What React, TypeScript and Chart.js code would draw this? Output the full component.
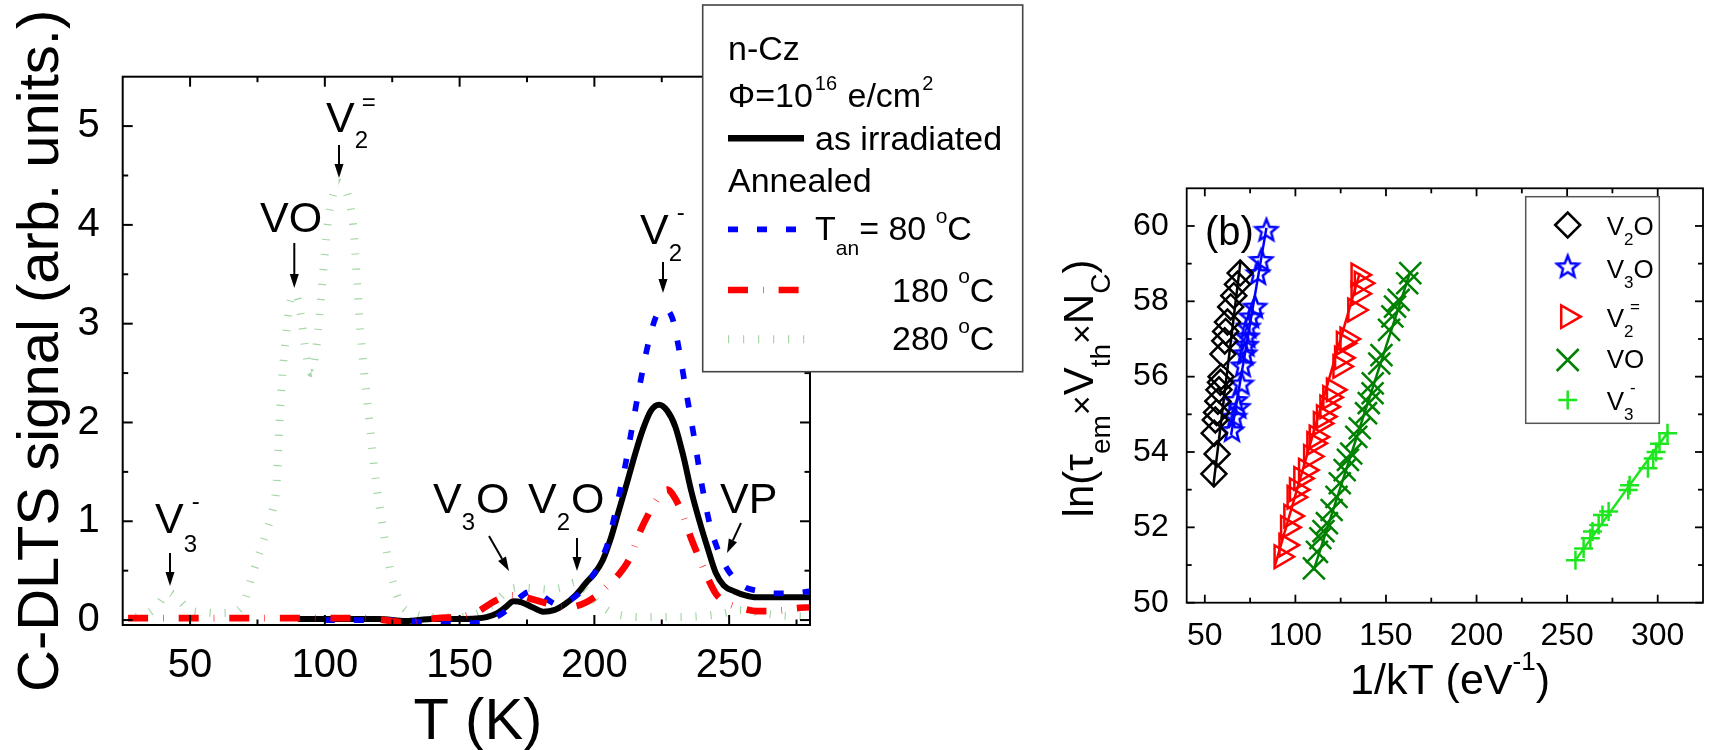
import React, { useEffect, useRef } from 'react';
import { Chart, registerables } from 'chart.js';

Chart.register(...registerables);

const FONT = 'Arial, "Liberation Sans", Helvetica, sans-serif';

// ---------------- Panel (a): C-DLTS spectra ----------------
const T_IRR = [90, 100, 110, 120, 130, 140, 150, 156, 160, 164, 167, 170, 173, 177, 181, 185, 189, 193, 197, 200, 203, 206, 209, 212, 215, 218, 221, 224, 227, 230, 233, 236, 239, 242, 245, 248, 252, 256, 260, 270, 280];
const S_IRR = [0.01, 0.01, 0.01, 0.01, -0.01, 0.01, 0.01, 0.015, 0.03, 0.07, 0.13, 0.19, 0.18, 0.13, 0.085, 0.1, 0.16, 0.25, 0.38, 0.47, 0.6, 0.82, 1.1, 1.38, 1.67, 1.93, 2.12, 2.18, 2.12, 1.96, 1.66, 1.3, 1.0, 0.73, 0.48, 0.35, 0.29, 0.25, 0.23, 0.23, 0.23];

const T_80 = [100, 115, 125, 135, 145, 155, 160, 163, 166, 169, 172, 175, 177, 180, 183, 186, 189, 192, 195, 198, 201, 203, 205, 208, 211, 214, 217, 220, 223, 226, 229, 231, 234, 237, 240, 243, 246, 249, 252, 256, 260, 266, 272, 280];
const S_80 = [0.0, 0.0, 0.0, -0.02, -0.03, -0.03, -0.02, 0.02, 0.07, 0.14, 0.22, 0.28, 0.29, 0.26, 0.2, 0.16, 0.18, 0.22, 0.29, 0.4, 0.52, 0.64, 0.78, 1.12, 1.5, 1.95, 2.4, 2.8, 3.08, 3.15, 3.05, 2.8, 2.32, 1.85, 1.35, 0.95, 0.7, 0.53, 0.42, 0.33, 0.3, 0.27, 0.27, 0.29];

const T_180 = [27, 60, 100, 115, 122, 128, 135, 142, 148, 153, 157, 161, 165, 169, 173, 177, 181, 185, 189, 193, 197, 201, 205, 209, 213, 217, 221, 224, 227, 230, 233, 236, 239, 242, 245, 248, 252, 256, 260, 265, 270, 275, 280];
const S_180 = [0.02, 0.02, 0.02, 0.02, 0.0, -0.02, 0.0, 0.02, 0.03, 0.05, 0.09, 0.16, 0.22, 0.25, 0.24, 0.21, 0.18, 0.15, 0.13, 0.14, 0.18, 0.25, 0.35, 0.46, 0.62, 0.9, 1.12, 1.25, 1.32, 1.23, 1.05, 0.82, 0.62, 0.43, 0.27, 0.19, 0.14, 0.11, 0.09, 0.09, 0.1, 0.12, 0.13];

const T_280 = [30, 35, 38, 42, 46, 50, 55, 60, 66, 70, 73, 76, 78.5, 80.5, 82, 83, 84, 85.5, 87, 89, 91, 93, 95, 97, 99, 101, 103, 105, 107, 108.5, 110.5, 112, 113.2, 115, 117, 118.8, 121.3, 123, 125.5, 128, 132, 140, 150, 158, 163, 168, 173, 178, 183, 188, 193, 197, 201, 206, 212, 220, 230, 240, 248, 254, 260, 268, 280];
const S_280 = [0.03, 0.08, 0.15, 0.28, 0.2, 0.1, 0.08, 0.07, 0.08, 0.18, 0.45, 0.7, 0.91, 1.1, 1.35, 1.9, 2.4, 2.85, 3.2, 3.3, 3.1, 2.7, 2.5, 2.8, 3.4, 4.0, 4.3, 4.43, 4.38, 4.29, 4.0, 3.41, 2.92, 2.4, 1.89, 1.42, 0.98, 0.68, 0.37, 0.17, 0.08, 0.03, 0.03, 0.08, 0.18, 0.3, 0.33, 0.32, 0.31, 0.33, 0.38, 0.3, 0.18, 0.08, 0.04, 0.03, 0.03, 0.04, 0.07, 0.1, 0.08, 0.05, 0.03];

const A_X_TICKS = [50, 100, 150, 200, 250];
const A_X_MINOR = [75, 125, 175, 225, 275];
const A_Y_TICKS = [0, 1, 2, 3, 4, 5];
const A_Y_MINOR = [0.5, 1.5, 2.5, 3.5, 4.5];

// ---------------- Panel (b): Arrhenius plots ----------------
const V2O_X = [55.0, 56.8, 55.2, 55.8, 56.5, 57.2, 57.8, 58.6, 59.0, 60.0, 61.0, 61.5, 62.5, 64.3, 66.0, 68.0, 69.5];
const V2O_Y = [53.42, 53.95, 54.5, 54.85, 55.05, 55.35, 55.65, 55.85, 56.0, 56.6, 56.95, 57.2, 57.45, 57.85, 58.15, 58.45, 58.75];
const V2O_FIT_X = [54.7, 69.8];
const V2O_FIT_Y = [53.1, 59.1];

const V3O_X = [65.0, 66.5, 68.5, 67.0, 70.3, 71.0, 72.2, 73.0, 73.5, 74.0, 75.5, 77.7, 79.4, 81.2, 84.0];
const V3O_Y = [54.58, 54.94, 55.2, 55.38, 55.82, 56.3, 56.62, 56.85, 57.07, 57.33, 57.6, 57.86, 58.75, 59.1, 59.9];
const V3O_FIT_X = [64.5, 84.0];
const V3O_FIT_Y = [54.45, 59.95];

const V2M_X = [92.1, 94.8, 95.7, 97.5, 99.3, 100.6, 103.0, 105.6, 108.4, 110.2, 111.5, 113.8, 115.5, 117.4, 119.0, 121.0, 124.6, 125.5, 126.5, 128.5, 132.8, 134.6, 136.4, 134.6];
const V2M_Y = [51.22, 51.53, 52.0, 52.3, 52.8, 53.0, 53.3, 53.52, 53.88, 54.23, 54.4, 54.76, 54.94, 55.2, 55.45, 55.65, 56.27, 56.5, 56.89, 57.0, 57.77, 58.2, 58.48, 58.7];
const V2M_FIT_X = [88.8, 135.5];
const V2M_FIT_Y = [51.0, 58.75];

const VO_X = [110.2, 111.9, 113.8, 115.5, 117.4, 120.0, 122.7, 124.5, 127.2, 129.0, 130.8, 133.6, 135.5, 139.0, 140.5, 142.6, 142.7, 146.3, 147.5, 151.7, 153.5, 155.0, 157.0, 161.7, 163.4];
const VO_Y = [50.91, 51.35, 51.71, 51.9, 52.11, 52.46, 52.81, 53.17, 53.52, 53.79, 53.96, 54.4, 54.63, 55.03, 55.3, 55.56, 55.82, 56.35, 56.57, 57.24, 57.6, 57.86, 58.04, 58.48, 58.75];
const VO_FIT_X = [110.0, 163.5];
const VO_FIT_Y = [50.85, 58.8];

const V3M_X = [254.6, 259.1, 262.8, 264.0, 267.4, 269.5, 272.9, 283.7, 284.5, 294.6, 297.5, 299.1, 301.0, 305.4];
const V3M_Y = [51.13, 51.44, 51.71, 51.89, 52.06, 52.33, 52.42, 52.99, 53.12, 53.57, 53.83, 54.0, 54.22, 54.5];
const V3M_FIT_X = [254.6, 306.0];
const V3M_FIT_Y = [51.13, 54.55];

const B_X_TICKS = [50, 100, 150, 200, 250, 300];
const B_X_MINOR = [75, 125, 175, 225, 275];
const B_Y_TICKS = [50, 52, 54, 56, 58, 60];
const B_Y_MINOR = [51, 53, 55, 57, 59];

// ---------------- layout ----------------
const LEFT_W = 1040;
const RIGHT_W = 681;
const RIGHT_OFF = 1040;
const H = 750;
const A_AREA = { left: 122.7, top: 76.7, right: 810, bottom: 625 };
const B_AREA = { left: 1186.7 - RIGHT_OFF, top: 188.3, right: 1713.3 - RIGHT_OFF, bottom: 602.7 };

const BLUE = '#0000ff';
const RED = '#ff0000';
const DKGREEN = '#008000';
const LTGREEN = '#1ee61e';
const FAINT_GREEN = 'rgba(0,140,0,0.35)';

type Seg = { t: string; s: number; dy?: number; stack?: boolean; dx?: number };

function layoutRich(ctx: CanvasRenderingContext2D, segs: Seg[]) {
  let cur = 0;
  let prevStart = 0;
  const items: any[] = [];
  for (const g of segs) {
    ctx.font = `${g.s}px ${FONT}`;
    const w = ctx.measureText(g.t).width;
    const sx = (g.stack ? prevStart : cur) + (g.dx || 0);
    items.push({ ...g, sx, w });
    cur = Math.max(cur, sx + w);
    prevStart = sx;
  }
  return { items, width: cur };
}

function drawRich(ctx: CanvasRenderingContext2D, segs: Seg[], x: number, y: number, align: 'left' | 'center' = 'left') {
  const { items, width } = layoutRich(ctx, segs);
  const x0 = align === 'center' ? x - width / 2 : x;
  ctx.textAlign = 'left';
  ctx.textBaseline = 'alphabetic';
  ctx.fillStyle = '#000';
  for (const it of items) {
    ctx.font = `${it.s}px ${FONT}`;
    ctx.fillText(it.t, x0 + it.sx, y + (it.dy || 0));
  }
}

function drawArrow(ctx: CanvasRenderingContext2D, x1: number, y1: number, x2: number, y2: number) {
  const dx = x2 - x1;
  const dy = y2 - y1;
  const len = Math.hypot(dx, dy);
  const ux = dx / len;
  const uy = dy / len;
  const head = 14;
  const hw = 4.5;
  ctx.strokeStyle = '#000';
  ctx.fillStyle = '#000';
  ctx.lineWidth = 2;
  ctx.setLineDash([]);
  ctx.beginPath();
  ctx.moveTo(x1, y1);
  ctx.lineTo(x2 - ux * head, y2 - uy * head);
  ctx.stroke();
  ctx.beginPath();
  ctx.moveTo(x2, y2);
  ctx.lineTo(x2 - ux * head - uy * hw, y2 - uy * head + ux * hw);
  ctx.lineTo(x2 - ux * head + uy * hw, y2 - uy * head - ux * hw);
  ctx.closePath();
  ctx.fill();
}

function frameTicks(
  ctx: CanvasRenderingContext2D,
  a: any,
  xs: any,
  ys: any,
  spec: { lw: number; major: number; minor: number; xT: number[]; xM: number[]; yT: number[]; yM: number[] }
) {
  ctx.save();
  ctx.setLineDash([]);
  ctx.strokeStyle = '#000';
  ctx.lineWidth = spec.lw;
  ctx.strokeRect(a.left, a.top, a.right - a.left, a.bottom - a.top);
  const seg = (x1: number, y1: number, x2: number, y2: number) => {
    ctx.beginPath();
    ctx.moveTo(x1, y1);
    ctx.lineTo(x2, y2);
    ctx.stroke();
  };
  const xt = (vals: number[], L: number) =>
    vals.forEach((v) => {
      const p = xs.getPixelForValue(v);
      seg(p, a.bottom, p, a.bottom - L);
      seg(p, a.top, p, a.top + L);
    });
  const yt = (vals: number[], L: number) =>
    vals.forEach((v) => {
      const p = ys.getPixelForValue(v);
      seg(a.left, p, a.left + L, p);
      seg(a.right, p, a.right - L, p);
    });
  xt(spec.xT, spec.major);
  xt(spec.xM, spec.minor);
  yt(spec.yT, spec.major);
  yt(spec.yM, spec.minor);
  ctx.restore();
}

function pts(xs: number[], ys: number[]) {
  return xs.map((x, i) => ({ x, y: ys[i] }));
}

function starPath(g: CanvasRenderingContext2D, cx: number, cy: number, R: number, r: number) {
  g.beginPath();
  for (let i = 0; i < 10; i++) {
    const ang = -Math.PI / 2 + (i * Math.PI) / 5;
    const rr = i % 2 === 0 ? R : r;
    const px = cx + rr * Math.cos(ang);
    const py = cy + rr * Math.sin(ang);
    if (i === 0) g.moveTo(px, py);
    else g.lineTo(px, py);
  }
  g.closePath();
}

function makeStar(color: string) {
  const c = document.createElement('canvas');
  c.width = 28;
  c.height = 28;
  const g = c.getContext('2d')!;
  starPath(g, 14, 15, 11.5, 5);
  g.strokeStyle = color;
  g.lineWidth = 2.5;
  g.lineJoin = 'miter';
  g.stroke();
  return c;
}

const leftDecor = {
  id: 'leftDecor',
  afterDraw(chart: any) {
    const ctx: CanvasRenderingContext2D = chart.ctx;
    const a = chart.chartArea;
    frameTicks(ctx, a, chart.scales.x, chart.scales.y, {
      lw: 2,
      major: 10,
      minor: 5.5,
      xT: A_X_TICKS,
      xM: A_X_MINOR,
      yT: A_Y_TICKS,
      yM: A_Y_MINOR,
    });
    ctx.save();
    // axis titles
    drawRich(ctx, [{ t: 'T (K)', s: 58 }], 478, 739, 'center');
    ctx.save();
    ctx.translate(57.5, (a.top + a.bottom) / 2);
    ctx.rotate(-Math.PI / 2);
    drawRich(ctx, [{ t: 'C-DLTS signal (arb. units.)', s: 58 }], 0, 0, 'center');
    ctx.restore();

    // peak annotations
    drawRich(ctx, [{ t: 'V', s: 43 }, { t: '3', s: 24, dy: 19 }, { t: '-', s: 24, dy: -24, stack: true, dx: 8 }], 155, 533);
    drawRich(ctx, [{ t: 'VO', s: 43 }], 260, 232);
    drawRich(ctx, [{ t: 'V', s: 43 }, { t: '2', s: 24, dy: 16 }, { t: '=', s: 24, dy: -22, stack: true, dx: 7 }], 326, 132);
    drawRich(ctx, [{ t: 'V', s: 43 }, { t: '3', s: 24, dy: 17 }, { t: 'O', s: 43, dx: 1 }], 433, 513);
    drawRich(ctx, [{ t: 'V', s: 43 }, { t: '2', s: 24, dy: 17 }, { t: 'O', s: 43, dx: 1 }], 528, 513);
    drawRich(ctx, [{ t: 'VP', s: 43 }], 720, 513);
    drawRich(ctx, [{ t: 'V', s: 43 }, { t: '2', s: 24, dy: 17 }, { t: '-', s: 24, dy: -24, stack: true, dx: 8 }], 640, 244);

    drawArrow(ctx, 170, 553, 170, 586);
    drawArrow(ctx, 294.3, 243, 294.3, 288);
    drawArrow(ctx, 339, 145, 339, 178);
    drawArrow(ctx, 489, 536, 509, 571);
    drawArrow(ctx, 577, 538, 577, 571);
    drawArrow(ctx, 741, 523, 727, 553);
    drawArrow(ctx, 663, 262, 663, 293);

    // legend box
    const bx = 702.7, by = 5, bw = 320, bh = 366.7;
    ctx.fillStyle = '#fff';
    ctx.fillRect(bx, by, bw, bh);
    ctx.strokeStyle = '#444';
    ctx.lineWidth = 1.6;
    ctx.setLineDash([]);
    ctx.strokeRect(bx, by, bw, bh);

    const LS = 34;
    drawRich(ctx, [{ t: 'n-Cz', s: LS }], 728, 59.5);
    drawRich(ctx, [{ t: 'Φ=10', s: LS }, { t: '16', s: 20, dy: -17, dx: 2 }, { t: ' e/cm', s: LS, dx: 1 }, { t: '2', s: 20, dy: -17, dx: 1 }], 728, 107);

    const sample = (y: number, color: string, w: number, dash: number[], x2: number) => {
      ctx.save();
      ctx.strokeStyle = color;
      ctx.lineWidth = w;
      ctx.lineCap = 'butt';
      ctx.setLineDash(dash);
      ctx.beginPath();
      ctx.moveTo(728, y);
      ctx.lineTo(x2, y);
      ctx.stroke();
      ctx.restore();
    };
    sample(138.3, '#000', 6.5, [], 804);
    drawRich(ctx, [{ t: 'as irradiated', s: LS }], 815, 150);
    drawRich(ctx, [{ t: 'Annealed', s: LS }], 728, 192);
    sample(229.3, BLUE, 5.7, [10, 19], 804);
    drawRich(ctx, [{ t: 'T', s: LS }, { t: 'an', s: 21, dy: 15 }, { t: '= 80 ', s: LS }, { t: 'o', s: 21, dy: -17 }, { t: 'C', s: LS }], 815, 240);
    sample(290, RED, 6.7, [20, 15, 0.6, 15], 800);
    drawRich(ctx, [{ t: '180 ', s: LS }, { t: 'o', s: 21, dy: -19 }, { t: 'C', s: LS }], 892, 302);
    sample(339.3, FAINT_GREEN, 8, [1.2, 13.8], 806);
    drawRich(ctx, [{ t: '280 ', s: LS }, { t: 'o', s: 21, dy: -17 }, { t: 'C', s: LS }], 892, 350);
    ctx.restore();
  },
};

function makeLeft(canvas: HTMLCanvasElement) {
  const line = (xs: number[], ys: number[], color: string, w: number, dash: number[], order: number) => ({
    data: pts(xs, ys),
    showLine: true,
    borderColor: color,
    borderWidth: w,
    borderDash: dash,
    borderCapStyle: 'butt',
    pointRadius: 0,
    cubicInterpolationMode: 'monotone',
    order,
  });
  return new Chart(canvas, {
    type: 'scatter',
    data: {
      datasets: [
        { label: 'as irradiated', ...line(T_IRR, S_IRR, '#000', 6, [], 4) },
        { label: 'Tan = 80 °C', ...line(T_80, S_80, BLUE, 5.7, [10, 19], 3) },
        { label: '180 °C', ...line(T_180, S_180, RED, 6.7, [20, 15, 0.6, 15], 2) },
        { label: '280 °C', ...line(T_280, S_280, FAINT_GREEN, 8, [1.2, 13.8], 5) },
      ] as any,
    },
    options: {
      responsive: false,
      animation: false,
      devicePixelRatio: 1,
      layout: { padding: { left: 0, top: A_AREA.top, right: LEFT_W - A_AREA.right, bottom: 0 } },
      plugins: { legend: { display: false }, tooltip: { enabled: false } },
      scales: {
        x: {
          type: 'linear',
          position: 'bottom',
          min: 25,
          max: 280,
          grid: { display: false },
          border: { display: false },
          ticks: { color: '#000', font: { family: FONT, size: 40 }, padding: 9, maxRotation: 0, autoSkip: false },
          afterBuildTicks: (s: any) => {
            s.ticks = A_X_TICKS.map((v) => ({ value: v }));
          },
          afterFit: (s: any) => {
            s.height = H - A_AREA.bottom;
          },
        },
        y: {
          type: 'linear',
          min: -0.05,
          max: 5.5,
          grid: { display: false },
          border: { display: false },
          ticks: { color: '#000', font: { family: FONT, size: 40 }, padding: 15, autoSkip: false },
          afterBuildTicks: (s: any) => {
            s.ticks = A_Y_TICKS.map((v) => ({ value: v }));
          },
          afterFit: (s: any) => {
            s.width = A_AREA.left;
          },
        },
      },
    } as any,
    plugins: [leftDecor],
  });
}

function makeRight(canvas: HTMLCanvasElement) {
  const star = makeStar(BLUE);
  const mk = (label: string, xs: number[], ys: number[], color: string, style: any, radius: number, rot = 0) => ({
    label,
    data: pts(xs, ys),
    showLine: false,
    pointStyle: style,
    pointRadius: radius,
    pointBorderWidth: 2.5,
    pointBorderColor: color,
    pointBackgroundColor: 'rgba(0,0,0,0)',
    borderColor: color,
    pointRotation: rot,
    order: 1,
  });
  const fit = (xs: number[], ys: number[], color: string) => ({
    label: 'fit',
    data: pts(xs, ys),
    showLine: true,
    borderColor: color,
    borderWidth: 2.5,
    pointRadius: 0,
    order: 2,
  });

  const rightDecor = {
    id: 'rightDecor',
    afterDraw(chart: any) {
      const ctx: CanvasRenderingContext2D = chart.ctx;
      const a = chart.chartArea;
      frameTicks(ctx, a, chart.scales.x, chart.scales.y, {
        lw: 1.8,
        major: 8,
        minor: 5,
        xT: B_X_TICKS,
        xM: B_X_MINOR,
        yT: B_Y_TICKS,
        yM: B_Y_MINOR,
      });
      ctx.save();
      drawRich(ctx, [{ t: '(b)', s: 40 }], 1205 - RIGHT_OFF, 245);
      drawRich(ctx, [{ t: '1/kT (eV', s: 43 }, { t: '-1', s: 26, dy: -24 }, { t: ')', s: 43 }], 1450 - RIGHT_OFF, 694, 'center');
      ctx.save();
      ctx.translate(1093 - RIGHT_OFF, 388.5);
      ctx.rotate(-Math.PI / 2);
      drawRich(
        ctx,
        [
          { t: 'ln(', s: 42 },
          { t: 'τ', s: 42 },
          { t: 'em', s: 28, dy: 17 },
          { t: '×', s: 34 },
          { t: 'V', s: 42 },
          { t: 'th', s: 28, dy: 17 },
          { t: '×', s: 34 },
          { t: 'N', s: 42 },
          { t: 'C', s: 28, dy: 17 },
          { t: ')', s: 42 },
        ],
        0,
        0,
        'center'
      );
      ctx.restore();

      // legend
      const bx = 1525.7 - RIGHT_OFF, by = 196.7, bw = 133.6, bh = 226.6;
      ctx.fillStyle = '#fff';
      ctx.fillRect(bx, by, bw, bh);
      ctx.strokeStyle = '#555';
      ctx.lineWidth = 1.5;
      ctx.strokeRect(bx, by, bw, bh);
      const mx = 1567.7 - RIGHT_OFF;
      const tx = 1606.7 - RIGHT_OFF;
      ctx.lineWidth = 2.5;
      // diamond
      ctx.strokeStyle = '#000';
      ctx.beginPath();
      ctx.moveTo(mx - 12.5, 225);
      ctx.lineTo(mx, 212.5);
      ctx.lineTo(mx + 12.5, 225);
      ctx.lineTo(mx, 237.5);
      ctx.closePath();
      ctx.stroke();
      // star
      ctx.drawImage(star, mx - 14, 267.3 - 15);
      // triangle (right)
      ctx.strokeStyle = RED;
      const r = 13;
      const ty = 316.7;
      ctx.beginPath();
      ctx.moveTo(mx + r, ty);
      ctx.lineTo(mx - r / 2, ty - (r * Math.sqrt(3)) / 2);
      ctx.lineTo(mx - r / 2, ty + (r * Math.sqrt(3)) / 2);
      ctx.closePath();
      ctx.stroke();
      // X
      ctx.strokeStyle = DKGREEN;
      const q = 11;
      ctx.beginPath();
      ctx.moveTo(mx - q, 360 - q);
      ctx.lineTo(mx + q, 360 + q);
      ctx.moveTo(mx + q, 360 - q);
      ctx.lineTo(mx - q, 360 + q);
      ctx.stroke();
      // plus
      ctx.strokeStyle = LTGREEN;
      ctx.beginPath();
      ctx.moveTo(mx - 9.5, 400);
      ctx.lineTo(mx + 9.5, 400);
      ctx.moveTo(mx, 390.5);
      ctx.lineTo(mx, 409.5);
      ctx.stroke();

      const LS = 26;
      drawRich(ctx, [{ t: 'V', s: LS }, { t: '2', s: 17, dy: 10 }, { t: 'O', s: LS }], tx, 235);
      drawRich(ctx, [{ t: 'V', s: LS }, { t: '3', s: 17, dy: 10 }, { t: 'O', s: LS }], tx, 278);
      drawRich(ctx, [{ t: 'V', s: LS }, { t: '2', s: 17, dy: 10 }, { t: '=', s: 17, dy: -15, stack: true, dx: 6 }], tx, 327);
      drawRich(ctx, [{ t: 'VO', s: LS }], tx, 368);
      drawRich(ctx, [{ t: 'V', s: LS }, { t: '3', s: 17, dy: 10 }, { t: '-', s: 17, dy: -17, stack: true, dx: 6 }], tx, 410);
      ctx.restore();
    },
  };

  return new Chart(canvas, {
    type: 'scatter',
    data: {
      datasets: [
        fit(V2O_FIT_X, V2O_FIT_Y, '#000'),
        fit(V3O_FIT_X, V3O_FIT_Y, BLUE),
        fit(V2M_FIT_X, V2M_FIT_Y, RED),
        fit(VO_FIT_X, VO_FIT_Y, DKGREEN),
        fit(V3M_FIT_X, V3M_FIT_Y, LTGREEN),
        mk('V2O', V2O_X, V2O_Y, '#000', 'rectRot', 12.5),
        mk('V3O', V3O_X, V3O_Y, BLUE, star, 11),
        mk('V2=', V2M_X, V2M_Y, RED, 'triangle', 13, 90),
        mk('VO', VO_X, VO_Y, DKGREEN, 'crossRot', 15.5),
        mk('V3-', V3M_X, V3M_Y, LTGREEN, 'cross', 9.5),
      ] as any,
    },
    options: {
      responsive: false,
      animation: false,
      devicePixelRatio: 1,
      layout: { padding: { left: 0, top: B_AREA.top, right: RIGHT_W - B_AREA.right, bottom: 0 } },
      plugins: { legend: { display: false }, tooltip: { enabled: false } },
      scales: {
        x: {
          type: 'linear',
          position: 'bottom',
          min: 40,
          max: 325,
          grid: { display: false },
          border: { display: false },
          ticks: { color: '#000', font: { family: FONT, size: 32 }, padding: 6, maxRotation: 0, autoSkip: false },
          afterBuildTicks: (s: any) => {
            s.ticks = B_X_TICKS.map((v) => ({ value: v }));
          },
          afterFit: (s: any) => {
            s.height = H - B_AREA.bottom;
          },
        },
        y: {
          type: 'linear',
          min: 50,
          max: 61,
          grid: { display: false },
          border: { display: false },
          ticks: { color: '#000', font: { family: FONT, size: 32 }, padding: 10, autoSkip: false },
          afterBuildTicks: (s: any) => {
            s.ticks = B_Y_TICKS.map((v) => ({ value: v }));
          },
          afterFit: (s: any) => {
            s.width = B_AREA.left;
          },
        },
      },
    } as any,
    plugins: [rightDecor],
  });
}

export default function App() {
  const leftRef = useRef<HTMLCanvasElement>(null);
  const rightRef = useRef<HTMLCanvasElement>(null);
  useEffect(() => {
    const charts: Chart[] = [];
    if (leftRef.current) charts.push(makeLeft(leftRef.current));
    if (rightRef.current) charts.push(makeRight(rightRef.current));
    return () => charts.forEach((c) => c.destroy());
  }, []);
  return (
    <div style={{ position: 'fixed', left: 0, top: 0, width: 1721, height: H, background: '#fff', overflow: 'hidden' }}>
      <canvas ref={leftRef} width={LEFT_W} height={H} style={{ position: 'absolute', left: 0, top: 0, width: LEFT_W, height: H }} />
      <canvas ref={rightRef} width={RIGHT_W} height={H} style={{ position: 'absolute', left: RIGHT_OFF, top: 0, width: RIGHT_W, height: H }} />
    </div>
  );
}
